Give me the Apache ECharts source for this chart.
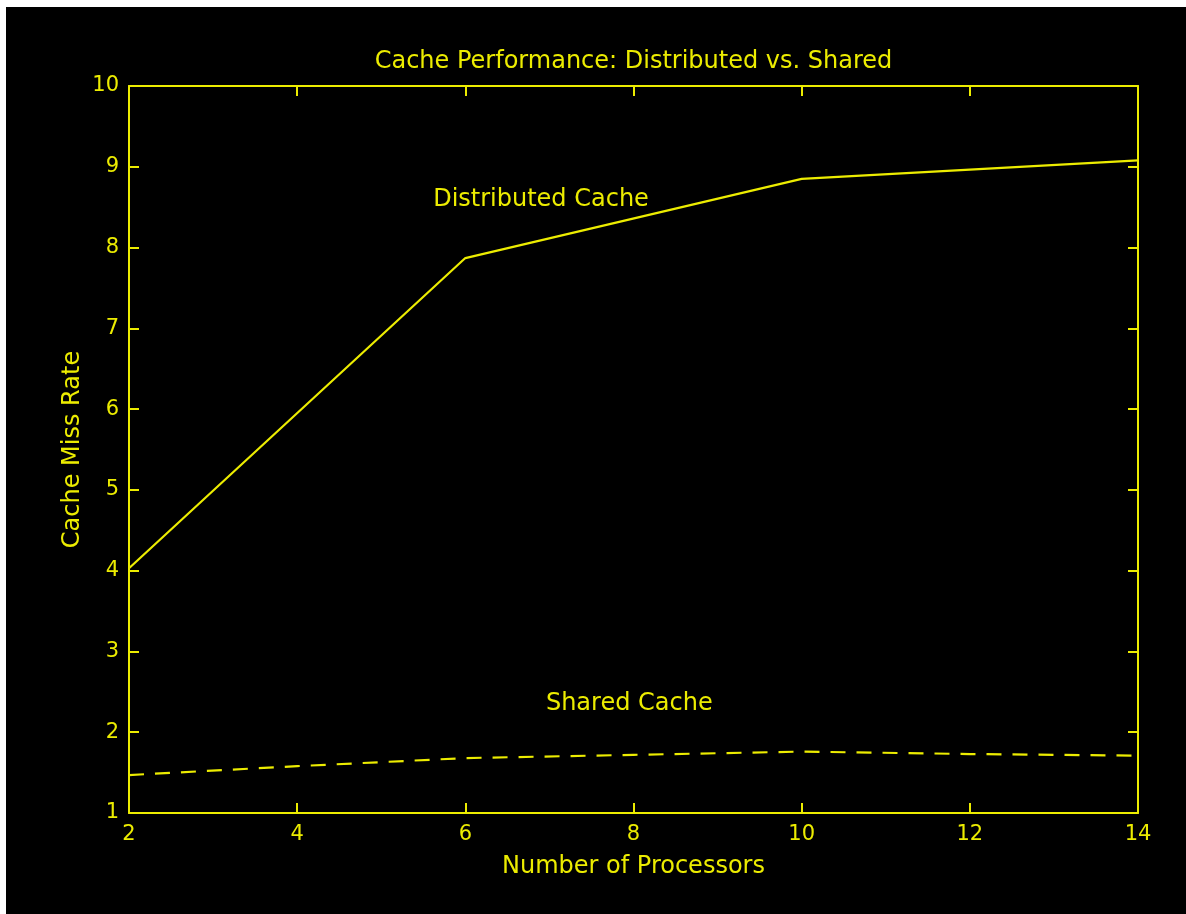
<!DOCTYPE html>
<html>
<head>
<meta charset="utf-8">
<script src="https://cdn.jsdelivr.net/npm/echarts@6/dist/echarts.min.js"></script>
<style>
  html, body { margin: 0; padding: 0; background: #ffffff; width: 1186px; height: 914px; overflow: hidden; }
  #chart { position: absolute; left: 6px; top: 7px; width: 1180px; height: 907px; background: #000000; }
</style>
</head>
<body>
<div id="chart"></div>
<script>
// Cache miss rate versus processor count
const distributedX = [2, 6, 10, 14];
const distributedY = [4.03, 7.87, 8.85, 9.08];
const sharedX = [2, 4, 6, 8, 10, 12, 14];
const sharedY = [1.47, 1.58, 1.68, 1.72, 1.76, 1.73, 1.71];
const xTicks = [2, 4, 6, 8, 10, 12, 14];
const yTicks = [1, 2, 3, 4, 5, 6, 7, 8, 9, 10];
const titleText = 'Cache Performance: Distributed vs. Shared';
const xName = 'Number of Processors';
const yName = 'Cache Miss Rate';
const seriesLabels = [
  { text: 'Distributed Cache', at: [6.9, 8.59] },
  { text: 'Shared Cache', at: [7.95, 2.35] }
];

const yellow = '#ecec00';
const font = 'DejaVu Sans';

const pairs = (xs, ys) => xs.map((x, i) => [x, ys[i]]);

const chart = echarts.init(document.getElementById('chart'), null, { renderer: 'canvas' });

const gridBox = { left: 123, top: 79, right: 48, bottom: 101 };
const plotCenterX = gridBox.left + (1180 - gridBox.left - gridBox.right) / 2;

const baseX = {
  type: 'value',
  min: xTicks[0],
  max: xTicks[xTicks.length - 1],
  interval: xTicks[1] - xTicks[0],
  splitLine: { show: false },
  axisLine: { show: true, onZero: false, lineStyle: { color: yellow, width: 2 } },
  axisTick: { show: true, inside: true, length: 10, lineStyle: { color: yellow, width: 2 } }
};
const baseY = {
  type: 'value',
  min: yTicks[0],
  max: yTicks[yTicks.length - 1],
  interval: yTicks[1] - yTicks[0],
  splitLine: { show: false },
  axisLine: { show: true, onZero: false, lineStyle: { color: yellow, width: 2 } },
  axisTick: { show: true, inside: true, length: 10, lineStyle: { color: yellow, width: 2 } }
};

chart.setOption({
  backgroundColor: '#000000',
  animation: false,
  title: {
    text: titleText,
    left: plotCenterX,
    textAlign: 'center',
    top: 43,
    padding: 0,
    textStyle: { color: yellow, fontFamily: font, fontSize: 24, fontWeight: 'normal' }
  },
  grid: Object.assign({ containLabel: false }, gridBox),
  xAxis: [
    Object.assign({}, baseX, {
      position: 'bottom',
      name: xName,
      nameLocation: 'middle',
      nameGap: 42,
      nameMoveOverlap: false,
      nameTextStyle: { color: yellow, fontFamily: font, fontSize: 24 },
      axisLabel: { color: yellow, fontFamily: font, fontSize: 21, margin: 11 }
    }),
    Object.assign({}, baseX, { position: 'top', axisLabel: { show: false } })
  ],
  yAxis: [
    Object.assign({}, baseY, {
      position: 'left',
      name: yName,
      nameLocation: 'middle',
      nameGap: 44,
      nameMoveOverlap: false,
      nameRotate: 90,
      nameTextStyle: { color: yellow, fontFamily: font, fontSize: 24 },
      axisLabel: { color: yellow, fontFamily: font, fontSize: 21, margin: 10 }
    }),
    Object.assign({}, baseY, { position: 'right', axisLabel: { show: false } })
  ],
  series: [
    {
      name: 'Distributed Cache',
      type: 'line',
      xAxisIndex: 0,
      yAxisIndex: 0,
      data: pairs(distributedX, distributedY),
      showSymbol: false,
      lineStyle: { color: yellow, width: 2.2, type: 'solid' }
    },
    {
      name: 'Shared Cache',
      type: 'line',
      xAxisIndex: 0,
      yAxisIndex: 0,
      data: pairs(sharedX, sharedY),
      showSymbol: false,
      lineStyle: { color: yellow, width: 2.2, type: [15, 11] }
    },
    {
      name: 'labels',
      type: 'scatter',
      xAxisIndex: 0,
      yAxisIndex: 0,
      symbolSize: 0,
      silent: true,
      itemStyle: { opacity: 1, color: yellow },
      data: seriesLabels.map(d => ({ value: d.at, name: d.text })),
      label: {
        show: true,
        position: 'inside',
        formatter: p => p.name,
        color: yellow,
        fontFamily: font,
        fontSize: 24
      }
    }
  ]
});
</script>
</body>
</html>
